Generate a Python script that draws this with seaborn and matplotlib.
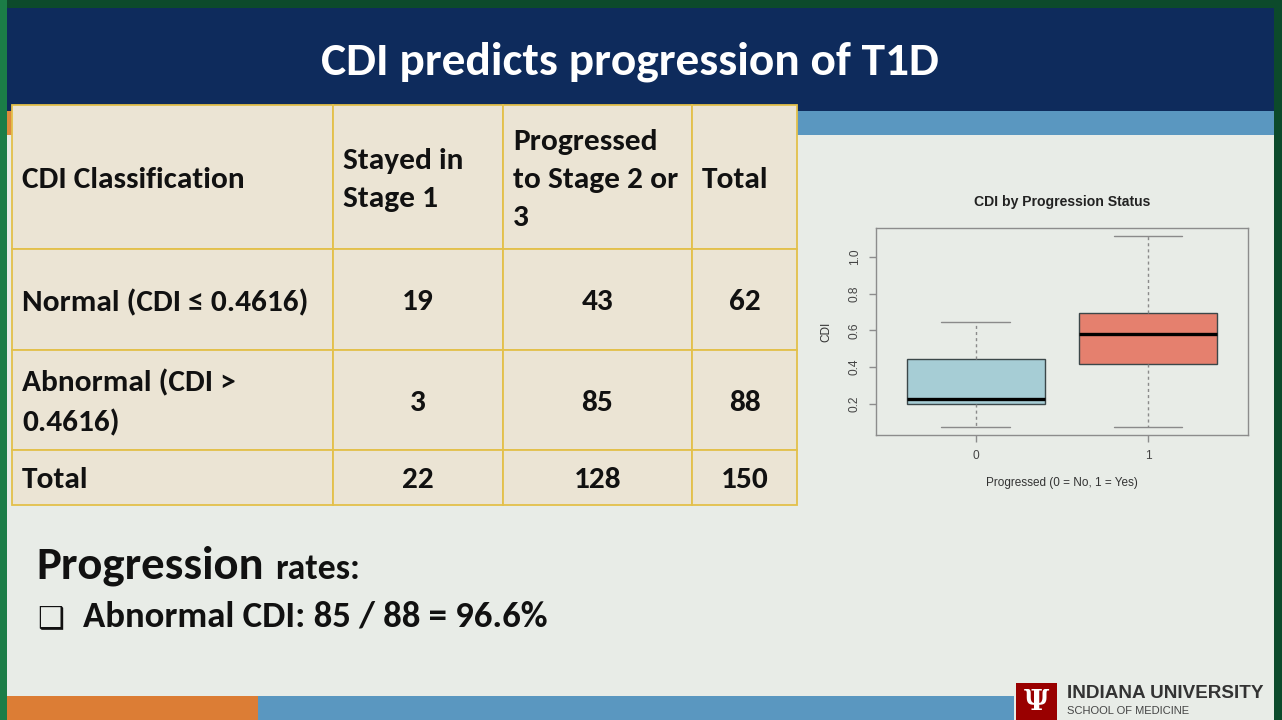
import numpy as np
import pandas as pd
import matplotlib
matplotlib.use("Agg")
import matplotlib.pyplot as plt
from matplotlib.patches import Rectangle
from matplotlib import font_manager as fm
import seaborn as sns

# ---------------- data ----------------
slide_title = "CDI predicts progression of T1D"
col_headers = ["CDI Classification", "Stayed in\nStage 1", "Progressed\nto Stage 2 or\n3", "Total"]
row_labels = ["Normal (CDI \u2264 0.4616)", "Abnormal (CDI >\n0.4616)", "Total"]
stayed_stage1 = [19, 3, 22]
progressed_stage23 = [43, 85, 128]
row_totals = [62, 88, 150]

box_groups = ["0", "1"]
# five-number summaries: min, Q1, median, Q3, max
cdi_not_progressed = [0.076, 0.198, 0.227, 0.445, 0.645]
cdi_progressed = [0.073, 0.416, 0.581, 0.697, 1.116]
box_title = "CDI by Progression Status"
box_xlabel = "Progressed (0 = No, 1 = Yes)"
box_ylabel = "CDI"
box_yticks = [0.2, 0.4, 0.6, 0.8, 1.0]

rates_heading = "Progression"
rates_suffix = "rates:"
bullet_char = "\u2751"
rate_line = "Abnormal CDI: 85 / 88 = 96.6%"
logo_main = "INDIANA UNIVERSITY"
logo_sub = "SCHOOL OF MEDICINE"

# ---------------- style ----------------
sns.set_style("white")
avail = {f.name for f in fm.fontManager.ttflist}
main_font = next(f for f in ["Carlito", "Lato", "Open Sans", "DejaVu Sans"] if f in avail)
plot_font = next(f for f in ["Liberation Sans", "Arial", "DejaVu Sans"] if f in avail)
plt.rcParams["font.family"] = [main_font, "DejaVu Sans"]

W, H = 1282, 720
fig = plt.figure(figsize=(W / 100, H / 100), dpi=100, facecolor="#0c4a2b")
renderer = fig.canvas.get_renderer()

bg = fig.add_axes([0, 0, 1, 1], zorder=0)
bg.set_xlim(0, W)
bg.set_ylim(H, 0)
bg.axis("off")


def rect(x0, y0, x1, y1, color, **kw):
    bg.add_patch(Rectangle((x0, y0), x1 - x0, y1 - y0, facecolor=color,
                           edgecolor=kw.pop("edgecolor", "none"), **kw))


def fit(txt, target_w):
    bb = txt.get_window_extent(renderer)
    txt.set_fontsize(txt.get_fontsize() * target_w / bb.width)
    return txt.get_fontsize()


# frame + slide
rect(0, 0, 7, H, "#1b7d47")
rect(7, 8, 1274, H, "#e8ece7")
rect(7, 8, 1274, 111, "#0e2b5c")
rect(7, 111, 258, 135, "#de8a3c")
rect(258, 111, 1274, 135, "#5a97c0")
rect(7, 696, 258, H, "#dc7d35")
rect(258, 696, 1014, H, "#5a97c0")

# title
t = bg.text(629.5, 62, slide_title, ha="center", va="center", color="white",
            fontsize=30, fontweight="bold")
fit(t, 617)

# ---------------- table ----------------
col_edges = [12, 333, 503, 692, 797]
row_edges = [105, 249, 350, 450, 505]
cell_fill = "#ebe4d4"
grid_col = "#e3c04a"
for i in range(len(row_edges) - 1):
    for j in range(len(col_edges) - 1):
        rect(col_edges[j], row_edges[i], col_edges[j + 1], row_edges[i + 1], cell_fill,
             edgecolor=grid_col, linewidth=1.3, zorder=2)

tcol = "#111111"
probe = bg.text(0, 0, col_headers[0], fontsize=20, fontweight="bold")
table_fs = fit(probe, 223)
probe.remove()
fp = fm.FontProperties(family=main_font, weight="bold", size=table_fs)
_, lp_h, lp_d = renderer.get_text_width_height_descent("lp", fp, ismath=False)
ls = 0.865 * 38.0 / (lp_h - lp_d)

tk = dict(fontsize=table_fs, fontweight="bold", color=tcol, va="center",
          linespacing=ls, zorder=3, family=[main_font, "DejaVu Sans"])
dy = 3
yc_head = (row_edges[0] + row_edges[1]) / 2 + dy
for j, hdr in enumerate(col_headers):
    bg.text(col_edges[j] + 10, yc_head, hdr, ha="left", **tk)

body_cols = [stayed_stage1, progressed_stage23, row_totals]
for i, lab in enumerate(row_labels):
    yc = (row_edges[i + 1] + row_edges[i + 2]) / 2 + dy
    bg.text(col_edges[0] + 10, yc, lab, ha="left", **tk)
    for j, vals in enumerate(body_cols):
        xc = (col_edges[j + 1] + col_edges[j + 2]) / 2
        bg.text(xc, yc, str(vals[i]), ha="center", **tk)

# ---------------- progression rates text ----------------
t1 = bg.text(36, 579, rates_heading, ha="left", va="baseline", color=tcol,
             fontsize=34, fontweight="bold")
fit(t1, 228)
t2 = bg.text(275, 579, rates_suffix, ha="left", va="baseline", color=tcol,
             fontsize=24, fontweight="bold")
fit(t2, 85)
tb = bg.text(37, 627, bullet_char, ha="left", va="baseline", color=tcol,
             fontsize=20, family=["DejaVu Sans"])
fit(tb, 27)
t3 = bg.text(83, 626, rate_line, ha="left", va="baseline", color=tcol,
             fontsize=24, fontweight="bold")
fit(t3, 466)

# ---------------- logo ----------------
rect(1016, 683, 1057, H, "#990000")
bg.text(1036.5, 703, "\u03a8", ha="center", va="center", color="white",
        fontsize=20, fontweight="bold", family=["DejaVu Serif"])
l1 = bg.text(1067, 694, logo_main, ha="left", va="center", color="#333333",
             fontsize=13, fontweight="bold", family=[plot_font])
fit(l1, 196)
l2 = bg.text(1067, 711, logo_sub, ha="left", va="center", color="#444444",
             fontsize=8, family=[plot_font])
fit(l2, 122)

# ---------------- boxplot ----------------
ax_l, ax_r, ax_t, ax_b = 876, 1247.7, 228, 435
axb = fig.add_axes([ax_l / W, 1 - ax_b / H, (ax_r - ax_l) / W, (ax_b - ax_t) / H], zorder=5)
axb.set_facecolor("none")

df = pd.DataFrame({
    "Progressed": [box_groups[0]] * len(cdi_not_progressed) + [box_groups[1]] * len(cdi_progressed),
    "CDI": cdi_not_progressed + cdi_progressed,
})
sns.boxplot(data=df, x="Progressed", y="CDI", hue="Progressed",
            order=box_groups, hue_order=box_groups,
            palette=["#a6cdd5", "#e5806e"], saturation=1, whis=(0, 100), width=0.8,
            linecolor="#3b4749", linewidth=1.0,
            medianprops=dict(color="black", linewidth=2.4),
            whiskerprops=dict(color="#8a8a8a", linewidth=1.0, linestyle=(0, (2.2, 2.2))),
            capprops=dict(color="#8a8a8a", linewidth=1.0),
            legend=False, ax=axb)

axb.set_xlim(-0.579, 1.579)
axb.set_ylim(0.031, 1.158)
axb.set_yticks(box_yticks)
axb.set_yticklabels([f"{v:.1f}" for v in box_yticks], rotation=90, va="center",
                    family=plot_font, fontsize=8.6, color="#444444")
for lab in axb.get_xticklabels():
    lab.set_family(plot_font)
    lab.set_fontsize(8.6)
    lab.set_color("#444444")
for s in axb.spines.values():
    s.set_visible(True)
    s.set_color("#8c8c8c")
    s.set_linewidth(1.0)
axb.tick_params(axis="both", length=5, width=1.0, color="#8c8c8c", pad=6,
                left=True, bottom=True)
axb.set_title(box_title, family=plot_font, fontsize=10.1, fontweight="bold",
              color="#222222", pad=16)
axb.set_xlabel(box_xlabel, family=plot_font, fontsize=8.5, color="#333333")
axb.set_ylabel(box_ylabel, family=plot_font, fontsize=8.5, color="#333333")
axb.xaxis.set_label_coords(0.5, -0.205)
axb.yaxis.set_label_coords(-0.118, 0.5)

fig.savefig("out.png", dpi=100, facecolor=fig.get_facecolor())
